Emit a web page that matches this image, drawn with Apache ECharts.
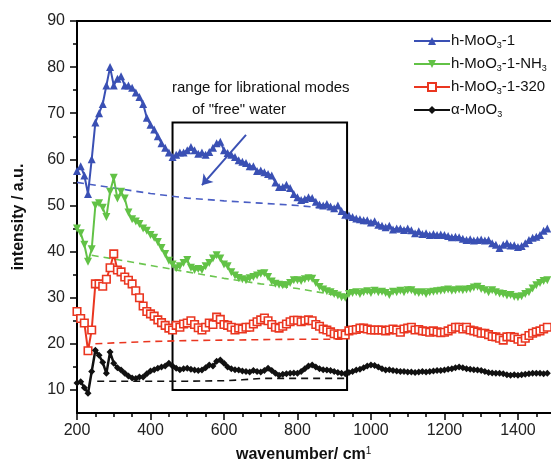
<!DOCTYPE html>
<html>
<head>
<meta charset="utf-8">
<script src="https://cdn.jsdelivr.net/npm/echarts@6/dist/echarts.min.js"></script>
<style>
  html, body { margin: 0; padding: 0; background: #fff; }
  #chart { width: 551px; height: 471px; }
</style>
</head>
<body>
<div id="chart"></div>
<script>
// wavenumber grid of the measured spectra (cm-1)
const wavenumber = [
  200, 210, 220, 230, 240, 250, 260, 270, 280, 290, 300, 310, 320, 330, 340, 350, 360, 370, 380, 390,
  400, 410, 420, 430, 440, 450, 460, 470, 480, 490, 500, 510, 520, 530, 540, 550, 560, 570, 580, 590,
  600, 610, 620, 630, 640, 650, 660, 670, 680, 690, 700, 710, 720, 730, 740, 750, 760, 770, 780, 790,
  800, 810, 820, 830, 840, 850, 860, 870, 880, 890, 900, 910, 920, 930, 940, 950, 960, 970, 980, 990,
  1000, 1010, 1020, 1030, 1040, 1050, 1060, 1070, 1080, 1090, 1100, 1110, 1120, 1130, 1140, 1150, 1160, 1170, 1180, 1190,
  1200, 1210, 1220, 1230, 1240, 1250, 1260, 1270, 1280, 1290, 1300, 1310, 1320, 1330, 1340, 1350, 1360, 1370, 1380, 1390,
  1400, 1410, 1420, 1430, 1440, 1450, 1460, 1470, 1480
]

const hMoO3 = [
  57.5, 58.5, 56.5, 52.5, 60, 68, 70, 72, 76, 80, 76, 77.5, 78, 76, 76, 75.5, 74.5, 73.5, 72, 69,
  67.5, 66.5, 65, 63.5, 62.5, 61.5, 60.5, 61, 61.5, 61.5, 62, 62.7, 62, 61.2, 61.5, 61, 61.6, 62.5, 63.5, 63.8,
  62, 61.4, 61, 60.5, 59.8, 59.5, 59.2, 58.5, 58.5, 57.5, 57.6, 57.2, 56.8, 56.5, 55, 54, 54, 54.5, 53.8, 52.5,
  51.8, 51.2, 51.4, 51.8, 51.6, 50.8, 50.2, 50, 50.3, 49.8, 49.4, 50, 48.8, 48, 47.8, 47.5, 47.2, 47, 46.8, 46.8,
  46.3, 46.6, 45.8, 45.6, 45.3, 45.6, 44.8, 45, 45, 44.7, 45, 44.6, 44, 44.4, 43.8, 44, 43.6, 43.8, 43.6, 43.7,
  43.6, 43.4, 43.1, 43.2, 43.1, 42.8, 42.5, 42.7, 42.4, 42.5, 42.6, 42.4, 42.5, 41.8, 41.5, 40.8, 41.5, 41.8, 41.3, 41.4,
  41, 41.2, 41.8, 42.5, 43, 43.2, 43.6, 44.5, 45
]

const hMoO3NH3 = [
  45, 44, 41.5, 37.8, 40.5, 50, 50.5, 49.5, 47.5, 53, 56, 51.5, 53, 51.5, 48.5, 47, 46.5, 46, 45, 44.5,
  43.6, 43, 42.1, 40.8, 39.5, 38, 37.2, 36.4, 36.8, 37.5, 38.2, 36.5, 36, 36.2, 36, 36.8, 37.5, 38.5, 39.2, 38.5,
  37.2, 36.8, 35.5, 34.8, 34.3, 34, 33.8, 34.2, 34.5, 34.8, 35.2, 35.3, 34.5, 33.5, 33, 32.8, 32.7, 32.7, 33.2, 33.8,
  33.8, 33.6, 34, 34.2, 34.1, 33.2, 32.3, 31.8, 31.4, 31.2, 30.8, 30.5, 30.1, 30, 30.8, 31, 31.2, 30.8, 31.2, 31.4,
  31, 31.5, 31.2, 31.3, 31, 30.6, 31.3, 31.2, 31.5, 31.2, 31.6, 31.6, 31.2, 31, 31.2, 30.8, 31.2, 31.3, 31.4, 31.5,
  31.6, 31.8, 31.5, 31.6, 31.8, 31.6, 31.8, 31.9, 32.2, 32.4, 31.9, 31.6, 31.2, 31.6, 31.2, 30.9, 30.8, 30.5, 30.6, 30.2,
  30.1, 30.3, 30.8, 31.2, 32, 32.7, 33.2, 33.6, 33.8
]

const hMoO3320 = [
  27, 25.5, 24.5, 18.5, 23, 33, 33, 32.5, 34, 36.5, 39.5, 36, 35.6, 34.5, 33.8, 33, 31.5, 30, 28.2, 27,
  26.5, 26, 25.2, 24.6, 24, 23.4, 23, 24, 23.6, 24.3, 24.5, 25, 24.2, 23.5, 23, 23.6, 24.5, 24.2, 25.8, 25.3,
  24.2, 24, 23.6, 23, 23.4, 23.2, 23.6, 23.6, 24.3, 24.8, 25.2, 25.6, 25, 24.2, 23.6, 23.4, 23.8, 24.3, 24.8, 25.1,
  25.1, 24.8, 25, 25.2, 25, 24.2, 23.8, 23.2, 23, 22.6, 22.2, 21.9, 22.2, 21.9, 22.8, 23, 23.1, 23.4, 23.4, 23.2,
  23, 23, 23, 23, 22.8, 23, 23.2, 23, 22.5, 23.2, 23.4, 23.6, 23, 23.1, 22.8, 22.7, 22.5, 22.8, 22.6, 22.4,
  22.5, 22.8, 23.2, 23.6, 23.6, 23.2, 23.6, 23, 22.8, 22.6, 22.3, 22.3, 22, 21.6, 21.5, 21.2, 20.8, 21.5, 21.6, 21.4,
  21, 20.5, 21.2, 21.8, 22.3, 22.6, 22.8, 23.2, 23.6
]

const alphaMoO3 = [
  11.5, 11.8, 10.5, 9.3, 14, 18.6, 17.5, 16, 13.6, 18.2, 15.8, 14.8, 14.3, 13.6, 13, 12.6, 12.5, 12.8, 12.8, 13.5,
  14.1, 14.4, 14.7, 15, 15.2, 15.8, 15.2, 14.7, 14.4, 14.6, 14.7, 14.5, 14.3, 14.2, 14.3, 14.8, 15.4, 15.2, 16.2, 16.5,
  15.8, 15, 14.6, 14.4, 14.3, 14.1, 14, 13.9, 14.2, 14, 13.9, 14.2, 14.7, 14.2, 13.6, 13.2, 13.4, 13.5, 13.6, 13.7,
  13.6, 14, 14.6, 15.2, 15.4, 15, 14.6, 14.4, 14.3, 14.2, 14, 13.8, 13.6, 13.5, 13.8, 14, 14.3, 14.5, 14.8, 15.2,
  15.4, 15.3, 15, 14.6, 14.3, 14.4, 14.2, 14.1, 14, 14, 13.9, 13.9, 13.8, 13.9, 14, 13.9, 14, 14.1, 14.2, 14.2,
  14.3, 14.5, 14.6, 14.8, 15, 14.8, 14.6, 14.5, 14.4, 14.3, 14.2, 14, 13.8, 13.7, 13.6, 13.6, 13.5, 13.3, 13.2, 13.3,
  13.2, 13.3, 13.4, 13.5, 13.6, 13.6, 13.6, 13.5, 13.6
]

// dashed background lines (wavenumber, intensity)
const baseBlueX = [200, 300, 400, 500, 600, 700, 800, 900, 930]
const baseBlueY = [55, 53.8, 52.6, 51.6, 51, 50.5, 50, 49.2, 48.6]
const baseGreenX = [240, 300, 400, 500, 600, 700, 800, 900, 930]
const baseGreenY = [39.2, 38.4, 37, 35.6, 34.2, 33, 32, 30.6, 30]
const baseRedX = [250, 300, 400, 500, 600, 700, 800, 900, 930]
const baseRedY = [20, 20.2, 20.5, 20.7, 20.8, 20.9, 21, 21, 21]
const baseBlackX = [255, 400, 500, 600, 650, 700, 800, 930]
const baseBlackY = [11.9, 11.9, 11.9, 12, 12.2, 12.5, 12.5, 12.5]

const xMajor = [200, 400, 600, 800, 1000, 1200, 1400]
const xMinor = [250, 300, 350, 450, 500, 550, 650, 700, 750, 850, 900, 950, 1050, 1100, 1150, 1250, 1300, 1350, 1450]
const yMajor = [10, 20, 30, 40, 50, 60, 70, 80, 90]
const yMinor = [15, 25, 35, 45, 55, 65, 75, 85]

// "free" water window and arrow
const boxX = [460, 935]
const boxY = [10, 68]
const arrowFrom = [660, 65.3]
const arrowTo = [540, 54.4]

const BLUE = '#3a50b4'
const GREEN = '#62c246'
const RED = '#ea3620'
const BLACK = '#111111'
const FONT = '"Liberation Sans", Arial, sans-serif'

const pairs = (xs, ys) => xs.map((x, i) => [x, ys[i]])

const chart = echarts.init(document.getElementById('chart'))

const sub = { fontSize: 9, fontFamily: FONT, color: '#111', padding: [9, 0, 0, 0], lineHeight: 15 }
const norm = { fontSize: 15, fontFamily: FONT, color: '#111', lineHeight: 15 }
const legendNames = {
  'h-MoO3-1': '{n|h-MoO}{s|3}{n|-1}',
  'h-MoO3-1-NH3': '{n|h-MoO}{s|3}{n|-1-NH}{s|3}',
  'h-MoO3-1-320': '{n|h-MoO}{s|3}{n|-1-320}',
  'α-MoO3': '{n|α-MoO}{s|3}'
}

const dashed = (name, xs, ys, color) => ({
  name: name,
  type: 'line',
  data: pairs(xs, ys),
  showSymbol: false,
  silent: true,
  lineStyle: { color: color, width: 1.6, type: [7, 5] },
  z: 1
})

const option = {
  backgroundColor: '#fff',
  animation: false,
  grid: { left: 77, right: 0, top: 21, bottom: 58, containLabel: false },
  legend: {
    data: ['h-MoO3-1', 'h-MoO3-1-NH3', 'h-MoO3-1-320', 'α-MoO3'],
    orient: 'vertical',
    left: 408,
    top: 27,
    itemWidth: 36,
    itemHeight: 10,
    itemGap: 5,
    formatter: name => legendNames[name],
    textStyle: { rich: { n: norm, s: sub }, padding: [0, 0, 0, -4] },
    selectedMode: false
  },
  xAxis: [
    {
      type: 'value', min: 200, max: 1490, position: 'bottom',
      axisLine: { lineStyle: { color: '#000', width: 2 } },
      axisTick: { customValues: xMajor, length: 7, lineStyle: { color: '#000', width: 1.5 } },
      axisLabel: { customValues: xMajor, formatter: v => String(v), fontSize: 16, fontFamily: FONT, color: '#222', margin: 10 },
      splitLine: { show: false }
    },
    {
      type: 'value', min: 200, max: 1490, position: 'bottom',
      axisLine: { show: false },
      axisTick: { customValues: xMinor, length: 4, lineStyle: { color: '#000', width: 1.5 } },
      axisLabel: { show: false },
      splitLine: { show: false }
    },
    {
      type: 'value', min: 200, max: 1490, position: 'top',
      axisLine: { lineStyle: { color: '#000', width: 2 } },
      axisTick: { show: false },
      axisLabel: { show: false },
      splitLine: { show: false }
    }
  ],
  yAxis: [
    {
      type: 'value', min: 5, max: 90, position: 'left',
      axisLine: { show: true, lineStyle: { color: '#000', width: 2 } },
      axisTick: { show: true, customValues: yMajor, length: 7, lineStyle: { color: '#000', width: 1.5 } },
      axisLabel: { customValues: yMajor, fontSize: 16, fontFamily: FONT, color: '#222', margin: 12 },
      splitLine: { show: false },
      name: 'intensity / a.u.',
      nameLocation: 'middle',
      nameGap: 50,
      nameTextStyle: { fontSize: 16, fontWeight: 'bold', fontFamily: FONT, color: '#111' }
    },
    {
      type: 'value', min: 5, max: 90, position: 'left',
      axisLine: { show: false },
      axisTick: { show: true, customValues: yMinor, length: 4, lineStyle: { color: '#000', width: 1.5 } },
      axisLabel: { show: false },
      splitLine: { show: false }
    }
  ],
  graphic: [
    {
      type: 'text', left: 236, top: 446,
      style: {
        text: '{n|wavenumber/ cm}{p|1}',
        rich: {
          n: { fontSize: 16, fontWeight: 'bold', fontFamily: FONT, fill: '#111' },
          p: { fontSize: 10, fontFamily: FONT, fill: '#111', padding: [0, 0, 8, 0] }
        }
      }
    },
    {
      type: 'text', left: 172, top: 80,
      style: { text: 'range for librational modes', fontSize: 15, fontFamily: FONT, fill: '#111' }
    },
    {
      type: 'text', left: 192, top: 102,
      style: { text: 'of "free" water', fontSize: 15, fontFamily: FONT, fill: '#111' }
    }
  ],
  series: [
    dashed('base-blue', baseBlueX, baseBlueY, '#4a5ec4'),
    dashed('base-green', baseGreenX, baseGreenY, '#6cc650'),
    dashed('base-red', baseRedX, baseRedY, RED),
    dashed('base-black', baseBlackX, baseBlackY, BLACK),
    {
      name: 'h-MoO3-1',
      type: 'line',
      data: pairs(wavenumber, hMoO3),
      symbol: 'triangle',
      symbolSize: 8,
      lineStyle: { color: BLUE, width: 2 },
      itemStyle: { color: BLUE },
      z: 3,
      markLine: {
        silent: true,
        symbol: ['none', 'arrow'],
        symbolSize: 10,
        label: { show: false },
        lineStyle: { color: BLUE, width: 2, type: 'solid' },
        data: [[{ coord: arrowFrom }, { coord: arrowTo }]]
      }
    },
    {
      name: 'h-MoO3-1-NH3',
      type: 'line',
      data: pairs(wavenumber, hMoO3NH3),
      symbol: 'triangle',
      symbolRotate: 180,
      symbolSize: 8,
      lineStyle: { color: GREEN, width: 2 },
      itemStyle: { color: GREEN },
      z: 3
    },
    {
      name: 'h-MoO3-1-320',
      type: 'line',
      data: pairs(wavenumber, hMoO3320),
      symbol: 'rect',
      symbolSize: 7.5,
      lineStyle: { color: RED, width: 2 },
      itemStyle: { color: '#fff', borderColor: RED, borderWidth: 1.6 },
      z: 3
    },
    {
      name: 'α-MoO3',
      type: 'line',
      data: pairs(wavenumber, alphaMoO3),
      symbol: 'diamond',
      symbolSize: 7,
      lineStyle: { color: BLACK, width: 2.5 },
      itemStyle: { color: BLACK },
      z: 3,
      markArea: {
        silent: true,
        itemStyle: { color: 'rgba(0,0,0,0)', borderColor: '#000', borderWidth: 2 },
        data: [[{ coord: [boxX[0], boxY[0]] }, { coord: [boxX[1], boxY[1]] }]]
      }
    }
  ]
}

chart.setOption(option)
</script>
</body>
</html>
